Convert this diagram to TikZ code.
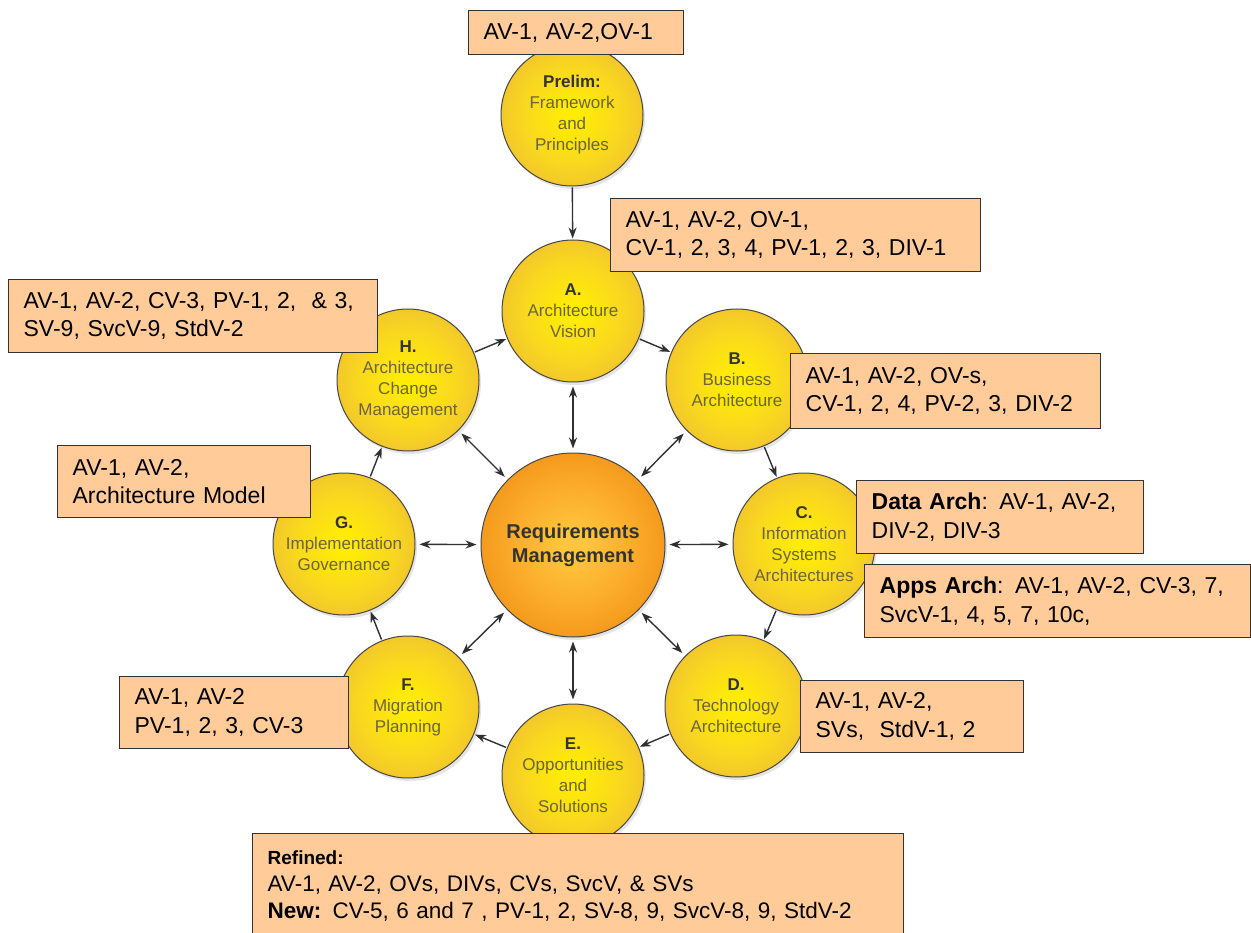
\documentclass[tikz,border=0pt]{standalone}
\usepackage{fontspec}
\setmainfont{Liberation Sans}
\usetikzlibrary{arrows.meta,shadows}
\definecolor{yin}{HTML}{FFEC05}
\definecolor{ymid}{HTML}{F9D81F}
\definecolor{yout}{HTML}{F0C22E}
\definecolor{oin}{HTML}{FFC63C}
\definecolor{omid}{HTML}{FBAA2A}
\definecolor{oout}{HTML}{F29418}
\definecolor{peach}{HTML}{FFCC99}
\definecolor{ctxt}{HTML}{6B6538}
\definecolor{dk}{HTML}{333333}
\definecolor{ark}{HTML}{303030}
\pgfdeclareradialshading{yshade}{\pgfpoint{0bp}{0bp}}{color(0bp)=(yin); color(3bp)=(yin); color(17bp)=(ymid); color(28bp)=(yout); color(50bp)=(yout)}
\pgfdeclareradialshading{oshade}{\pgfpoint{0bp}{0bp}}{color(0bp)=(oin); color(3bp)=(oin); color(17bp)=(omid); color(28bp)=(oout); color(50bp)=(oout)}
\newcommand\cletter[1]{\textcolor{dk}{\textbf{#1}}}
\begin{document}
\begin{tikzpicture}[x=1pt,y=-1pt,
  ring/.style={circle, minimum size=142pt, inner sep=0pt, draw=dk!90, line width=1pt,
    shading=yshade, align=center, text=ctxt,
    font=\fontsize{17}{21}\selectfont,
    drop shadow={shadow xshift=2pt, shadow yshift=-3pt, opacity=0.2}},
  core/.style={ring, minimum size=184pt, shading=oshade, text=dk,
    font=\fontsize{20}{24}\selectfont\bfseries},
  arr/.style={draw=ark, line width=1.4pt, -{Stealth[length=11pt,width=8pt]}, shorten >=1pt, shorten <=1pt},
  darr/.style={draw=ark, line width=1.4pt, {Stealth[length=11pt,width=8pt]}-{Stealth[length=11pt,width=8pt]}, shorten >=4pt, shorten <=4pt},
  infobox/.style={draw=dk, line width=1.3pt, fill=peach, anchor=north west, align=left,
    inner xsep=15pt, inner ysep=0pt, text=black, font=\fontsize{23}{28.5}\selectfont}
]
\useasboundingbox (0,0) rectangle (1251,933);
\fill[white] (0,0) rectangle (1251,933);

% circles
\node[core] (R) at (573,545) {Requirements\\Management};
\node[ring] (P) at (572,115) {\cletter{Prelim:}\\Framework\\and\\Principles};
\node[ring] (A) at (573,311) {\cletter{A.}\\Architecture\\Vision};
\node[ring] (B) at (737,380) {\cletter{B.}\\Business\\Architecture};
\node[ring] (C) at (804,544) {\cletter{C.}\\Information\\Systems\\Architectures};
\node[ring] (D) at (736,706) {\cletter{D.}\\Technology\\Architecture};
\node[ring] (E) at (573,775) {\cletter{E.}\\Opportunities\\and\\Solutions};
\node[ring] (F) at (408,707) {\cletter{F.}\\Migration\\Planning};
\node[ring] (G) at (344,544) {\cletter{G.}\\Implementation\\Governance};
\node[ring] (H) at (408,380) {\cletter{H.}\\Architecture\\Change\\Management};

% cycle arrows
\draw[arr] (P) -- (A);
\draw[arr] (H) -- (A);
\draw[arr] (A) -- (B);
\draw[arr] (B) -- (C);
\draw[arr] (C) -- (D);
\draw[arr] (D) -- (E);
\draw[arr] (E) -- (F);
\draw[arr] (F) -- (G);
\draw[arr] (G) -- (H);

% requirements arrows
\foreach \n in {A,B,C,D,E,F,G,H} { \draw[darr] (R) -- (\n); }

% boxes
\node[infobox, minimum width=215pt, minimum height=44pt, text width=185pt] (bP) at (468,10) {AV-1, AV-2,OV-1};
\node[infobox, minimum width=370pt, minimum height=73pt, text width=340pt] (bA) at (610,198)
  {AV-1, AV-2, OV-1,\\CV-1, 2, 3, 4, PV-1, 2, 3, DIV-1};
\node[infobox, minimum width=369pt, minimum height=73pt, text width=339pt] (bH) at (8,279)
  {AV-1, AV-2, CV-3, PV-1, 2, \ \& 3,\\SV-9, SvcV-9, StdV-2};
\node[infobox, minimum width=310pt, minimum height=75pt, text width=280pt] (bB) at (790,353)
  {AV-1, AV-2, OV-s,\\CV-1, 2, 4, PV-2, 3, DIV-2};
\node[infobox, minimum width=253pt, minimum height=72pt, text width=223pt] (bG) at (57,445)
  {AV-1, AV-2,\\Architecture Model};
\node[infobox, minimum width=287pt, minimum height=73pt, text width=257pt] (bC1) at (856,480)
  {\textbf{Data Arch}: AV-1, AV-2,\\DIV-2, DIV-3};
\node[infobox, minimum width=386pt, minimum height=73pt, text width=356pt] (bC2) at (864,564)
  {\textbf{Apps Arch}: AV-1, AV-2, CV-3, 7,\\SvcV-1, 4, 5, 7, 10c,};
\node[infobox, minimum width=223pt, minimum height=72pt, text width=193pt] (bD) at (800,680)
  {AV-1, AV-2,\\SVs, \ StdV-1, 2};
\node[infobox, minimum width=229pt, minimum height=72pt, text width=199pt] (bF) at (119,676)
  {AV-1, AV-2\\PV-1, 2, 3, CV-3};
\node[infobox, minimum width=651pt, minimum height=104pt, text width=621pt, font=\fontsize{22.5}{27}\selectfont] (bE) at (252,833)
  {{\fontsize{19}{27}\selectfont\textbf{Refined:}}\\AV-1, AV-2, OVs, DIVs, CVs, SvcV, \& SVs\\\textbf{New:} CV-5, 6 and 7 , PV-1, 2, SV-8, 9, SvcV-8, 9, StdV-2};
\end{tikzpicture}
\end{document}
